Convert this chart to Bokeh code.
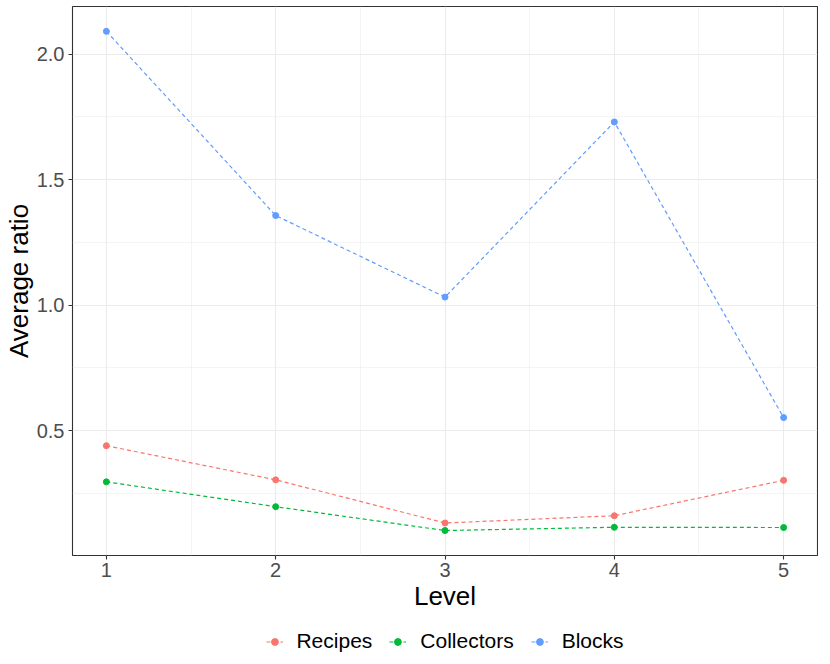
from bokeh.plotting import figure
from bokeh.layouts import column
from bokeh.models import Range1d, FixedTicker, Legend, LegendItem, NumeralTickFormatter
from bokeh.embed import file_html
from bokeh.resources import INLINE

levels = [1, 2, 3, 4, 5]
recipes = [0.440, 0.304, 0.132, 0.161, 0.302]
collectors = [0.296, 0.197, 0.102, 0.115, 0.114]
blocks = [2.091, 1.357, 1.032, 1.730, 0.552]
series_names = ["Recipes", "Collectors", "Blocks"]
series_colors = ["#F8766D", "#00BA38", "#619CFF"]
x_ticks = [1, 2, 3, 4, 5]
x_minor = [1.5, 2.5, 3.5, 4.5]
y_ticks = [0.5, 1.0, 1.5, 2.0]
y_minor = [0.25, 0.75, 1.25, 1.75]

FONT = "Liberation Sans"

p = figure(output_backend="svg", toolbar_location=None,
           width=818, height=620,
           min_border_left=64, min_border_right=1, min_border_top=6, min_border_bottom=65,
           x_range=Range1d(0.8, 5.2), y_range=Range1d(0.0025, 2.19),
           background_fill_color="white", border_fill_color="white")

p.outline_line_color = "#333333"
p.outline_line_width = 1.1

for ax in (p.xaxis, p.yaxis):
    ax.axis_line_color = None
    ax.major_tick_line_color = "#333333"
    ax.major_tick_line_width = 1.1
    ax.major_tick_out = 4
    ax.major_tick_in = 0
    ax.minor_tick_line_color = None
    ax.major_label_text_font = FONT
    ax.major_label_text_font_size = "20px"
    ax.major_label_text_color = "#4D4D4D"
    ax.axis_label_text_font = FONT
    ax.axis_label_text_font_size = "26px"
    ax.axis_label_text_font_style = "normal"
    ax.axis_label_text_color = "black"
    ax.axis_label_text_line_height = 1.0
    ax.major_label_text_line_height = 1.0

p.xaxis.ticker = FixedTicker(ticks=x_ticks, minor_ticks=x_minor)
p.yaxis.ticker = FixedTicker(ticks=y_ticks, minor_ticks=y_minor)
p.yaxis.formatter = NumeralTickFormatter(format="0.0")
p.xaxis.axis_label = "Level"
p.yaxis.axis_label = "Average ratio"
p.xaxis.major_label_standoff = 3
p.yaxis.major_label_standoff = 4
p.xaxis.axis_label_standoff = 1
p.yaxis.axis_label_standoff = 0

p.grid.grid_line_color = "#EBEBEB"
p.grid.grid_line_width = 1.1
p.grid.minor_grid_line_color = "#EBEBEB"
p.grid.minor_grid_line_width = 0.55

for name, col, vals in zip(series_names, series_colors, [recipes, collectors, blocks]):
    p.line(levels, vals, line_color=col, line_width=1.2, line_dash="4 3")
    p.scatter(levels, vals, size=6, fill_color=col, line_color=col)

# legend strip below the plot (its renderers hold off-screen dummy points only)
q = figure(output_backend="svg", toolbar_location=None, width=818, height=42,
           min_border_left=64, min_border_right=1, min_border_top=0, min_border_bottom=0,
           x_range=Range1d(0, 1), y_range=Range1d(0, 1),
           background_fill_color="white", border_fill_color="white")
q.axis.visible = False
q.grid.visible = False
q.outline_line_color = None
items = []
for name, col in zip(series_names, series_colors):
    lr = q.line([-10, -9], [-10, -10], line_color=col, line_width=1.2, line_dash="4 3")
    sr = q.scatter([-10], [-10], size=6, fill_color=col, line_color=col)
    items.append(LegendItem(label=name, renderers=[lr, sr]))
legend = Legend(items=items, orientation="horizontal", location="center",
                label_text_font=FONT, label_text_font_size="21px",
                label_text_color="black", glyph_width=17, glyph_height=17,
                label_standoff=14, spacing=17, border_line_color=None,
                background_fill_alpha=0, padding=4, margin=0)
q.add_layout(legend)

layout = column(p, q, spacing=0)
open("out.html", "w").write(file_html(layout, INLINE))
